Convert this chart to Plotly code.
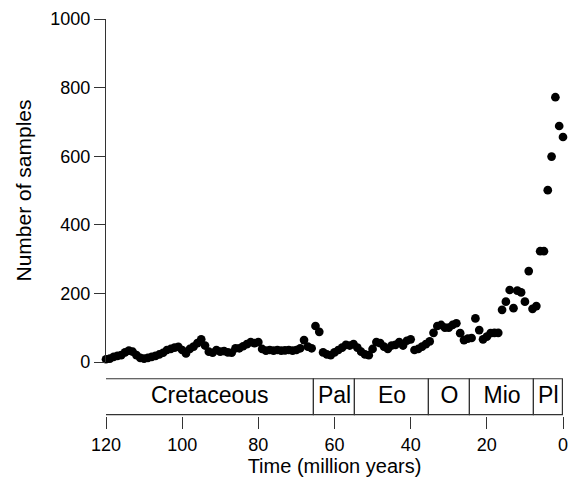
import plotly.graph_objects as go

# Time (million years ago), one sample-count value per 1-Myr bin, 0..120
ages = list(range(0, 121))
samples = [
    656, 688, 772, 599, 501, 323, 323, 163, 155, 265,   # 0-9
    176, 203, 208, 157, 210, 176, 152, 85, 85, 84,      # 10-19
    74, 66, 93, 127, 70, 68, 64, 84, 113, 108,          # 20-29
    100, 100, 108, 105, 85, 60, 52, 45, 38, 35,         # 30-39
    66, 62, 48, 58, 50, 48, 38, 45, 55, 58,             # 40-49
    38, 20, 22, 30, 42, 52, 48, 50, 42, 35,             # 50-59
    28, 20, 22, 28, 88, 105, 40, 45, 64, 40,            # 60-69
    35, 33, 35, 34, 33, 35, 33, 35, 33, 38,             # 70-79
    58, 55, 58, 52, 46, 40, 40, 27, 28, 32,             # 80-89
    30, 35, 27, 30, 48, 66, 55, 45, 38, 25,             # 90-99
    35, 44, 42, 38, 35, 27, 22, 18, 15, 12,             # 100-109
    10, 12, 20, 30, 33, 28, 20, 18, 15, 10,             # 110-119
    8,                                                  # 120
]

# Geological periods (start, end in Myr) and labels
period_names = ["Cretaceous", "Pal", "Eo", "O", "Mio", "Pl"]
period_start = [120, 65.5, 54.5, 35.3, 24.3, 7.7]
period_end = [65.5, 54.5, 35.3, 24.3, 7.7, 0]

y_ticks = [0, 200, 400, 600, 800, 1000]
x_ticks = [120, 100, 80, 60, 40, 20, 0]

FONT = "Arial, 'Liberation Sans', Helvetica, sans-serif"
AX = "#333333"

mids = [(a + b) / 2 for a, b in zip(period_start, period_end)]
widths = [a - b for a, b in zip(period_start, period_end)]

fig = go.Figure()

fig.add_trace(go.Scatter(
    x=ages, y=samples, mode="markers",
    marker=dict(color="black", size=8.7, line=dict(width=0)),
    cliponaxis=False, xaxis="x", yaxis="y", showlegend=False,
))

fig.add_trace(go.Bar(
    x=mids, y=[1] * len(mids), width=widths, base=0,
    marker=dict(color="white", line=dict(color=AX, width=1.2)),
    xaxis="x", yaxis="y2", showlegend=False, hoverinfo="skip",
    cliponaxis=False,
))

fig.add_trace(go.Scatter(
    x=mids, y=[0.5] * len(mids), mode="text", text=period_names,
    textfont=dict(family=FONT, size=23, color="black"),
    textposition="middle center",
    xaxis="x", yaxis="y2", showlegend=False, hoverinfo="skip",
))

# page body has an 8px margin, so the figure is sized/offset to compensate
fig.update_layout(
    width=568, height=472,
    margin=dict(l=98, r=13, t=11, b=64),
    paper_bgcolor="white", plot_bgcolor="white",
    font=dict(family=FONT, size=18, color="black"),
    bargap=0,
    xaxis=dict(
        range=[120, 0], anchor="y2", automargin=False,
        tickvals=x_ticks, ticks="outside", ticklen=12, tickwidth=1.2,
        tickcolor=AX, showline=False, showgrid=False, zeroline=False,
        tickfont=dict(size=18),
        title=dict(text="Time (million years)", font=dict(size=20), standoff=0),
    ),
    yaxis=dict(
        domain=[0.136, 1], range=[0, 1000], anchor="x", automargin=False,
        tickvals=y_ticks, ticks="outside", ticklen=11, tickwidth=1.2,
        tickcolor=AX, showline=True, linecolor=AX, linewidth=1.2,
        showgrid=False, zeroline=False, tickfont=dict(size=18),
        title=dict(text="Number of samples", font=dict(size=21), standoff=12),
    ),
    yaxis2=dict(
        domain=[0, 0.095], range=[-0.015, 1.015], anchor="x",
        visible=False, fixedrange=True,
    ),
)

fig.write_html("out.html")
